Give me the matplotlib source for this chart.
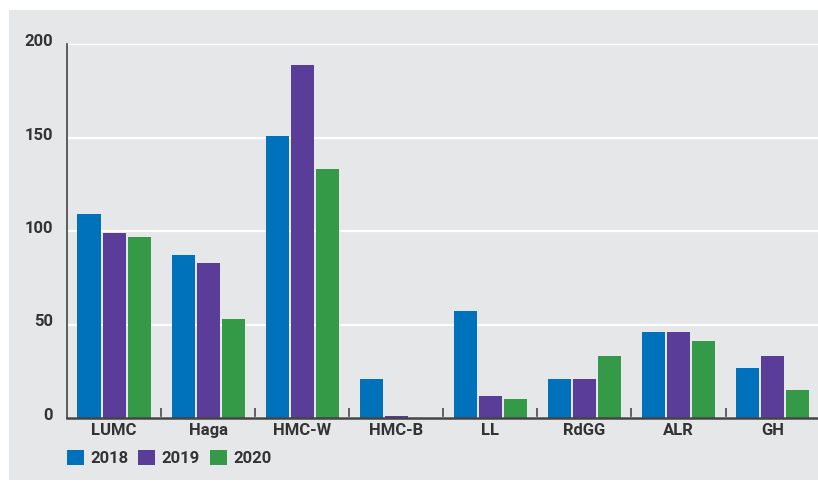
import matplotlib
matplotlib.use('Agg')
import matplotlib.pyplot as plt
import matplotlib.transforms as mtransforms
from matplotlib.patches import Rectangle, Patch
import numpy as np

plt.rcParams['font.family'] = ['Roboto', 'DejaVu Sans']
plt.rcParams['font.weight'] = 'bold'

hospitals = ['LUMC', 'Haga', 'HMC-W', 'HMC-B', 'LL', 'RdGG', 'ALR', 'GH']
years = ['2018', '2019', '2020']
v2018 = [109, 87, 151, 21, 57, 21, 46, 27]
v2019 = [99, 83, 189, 1, 12, 21, 46, 33]
v2020 = [97, 53, 133, 0, 10, 33, 41, 15]
colors = ['#0072BB', '#5A3D98', '#359A47']

panel = '#E6E7E9'
text_col = '#333333'
W, H = 818, 483

fig = plt.figure(figsize=(W / 100, H / 100), dpi=100)
fig.patch.set_facecolor('white')
fig.patches.append(Rectangle((9 / W, 3 / H), 1, 470 / H, transform=fig.transFigure,
                             facecolor=panel, edgecolor='none', zorder=-10))

ax = fig.add_axes([67 / W, 65 / H, (W - 67) / W + 0.002, 374 / H])
ax.set_facecolor(panel)

x = np.arange(len(hospitals))
pitch = 0.266
width = 0.245
for i, (vals, col) in enumerate(zip([v2018, v2019, v2020], colors)):
    ax.bar(x + (i - 1) * pitch, vals, width, color=col, zorder=3)

ax.set_xlim(-0.5, len(hospitals) - 0.5)
ax.set_ylim(0, 200)
ax.set_yticks([0, 50, 100, 150, 200])
ax.yaxis.grid(True, color='white', linewidth=1.6, zorder=0)
ax.set_axisbelow(True)

for s in ['top', 'right']:
    ax.spines[s].set_visible(False)
ax.spines['left'].set_color('#444444')
ax.spines['left'].set_linewidth(1.2)
ax.spines['bottom'].set_color('#444444')
ax.spines['bottom'].set_linewidth(1.8)
ax.spines['bottom'].set_zorder(4)

# boundary ticks between groups, labels at group centres
ax.set_xticks(x[:-1] + 0.5)
ax.set_xticklabels([])
ax.tick_params(axis='x', which='major', direction='in', length=7, width=1.3, color='#555555')
ax.set_xticks(x, minor=True)
ax.set_xticklabels(hospitals, minor=True, fontsize=12, color=text_col)
ax.tick_params(axis='x', which='minor', length=0, pad=3.5)

ax.tick_params(axis='y', length=0, pad=10, labelsize=12, labelcolor=text_col)
shift = mtransforms.ScaledTranslation(0, 4 / 100, fig.dpi_scale_trans)
for lab in ax.get_yticklabels():
    lab.set_transform(lab.get_transform() + shift)

handles = [Patch(facecolor=c, edgecolor='none') for c in colors]
leg = fig.legend(handles, years, loc='upper left', bbox_to_anchor=(67 / W, 1 - 450 / H),
                 ncol=3, frameon=False, fontsize=12, handlelength=1.0, handleheight=1.0,
                 handletextpad=0.4, columnspacing=0.6, borderpad=0, borderaxespad=0)
for t in leg.get_texts():
    t.set_color(text_col)

fig.savefig('out.png', dpi=100, facecolor='white')
